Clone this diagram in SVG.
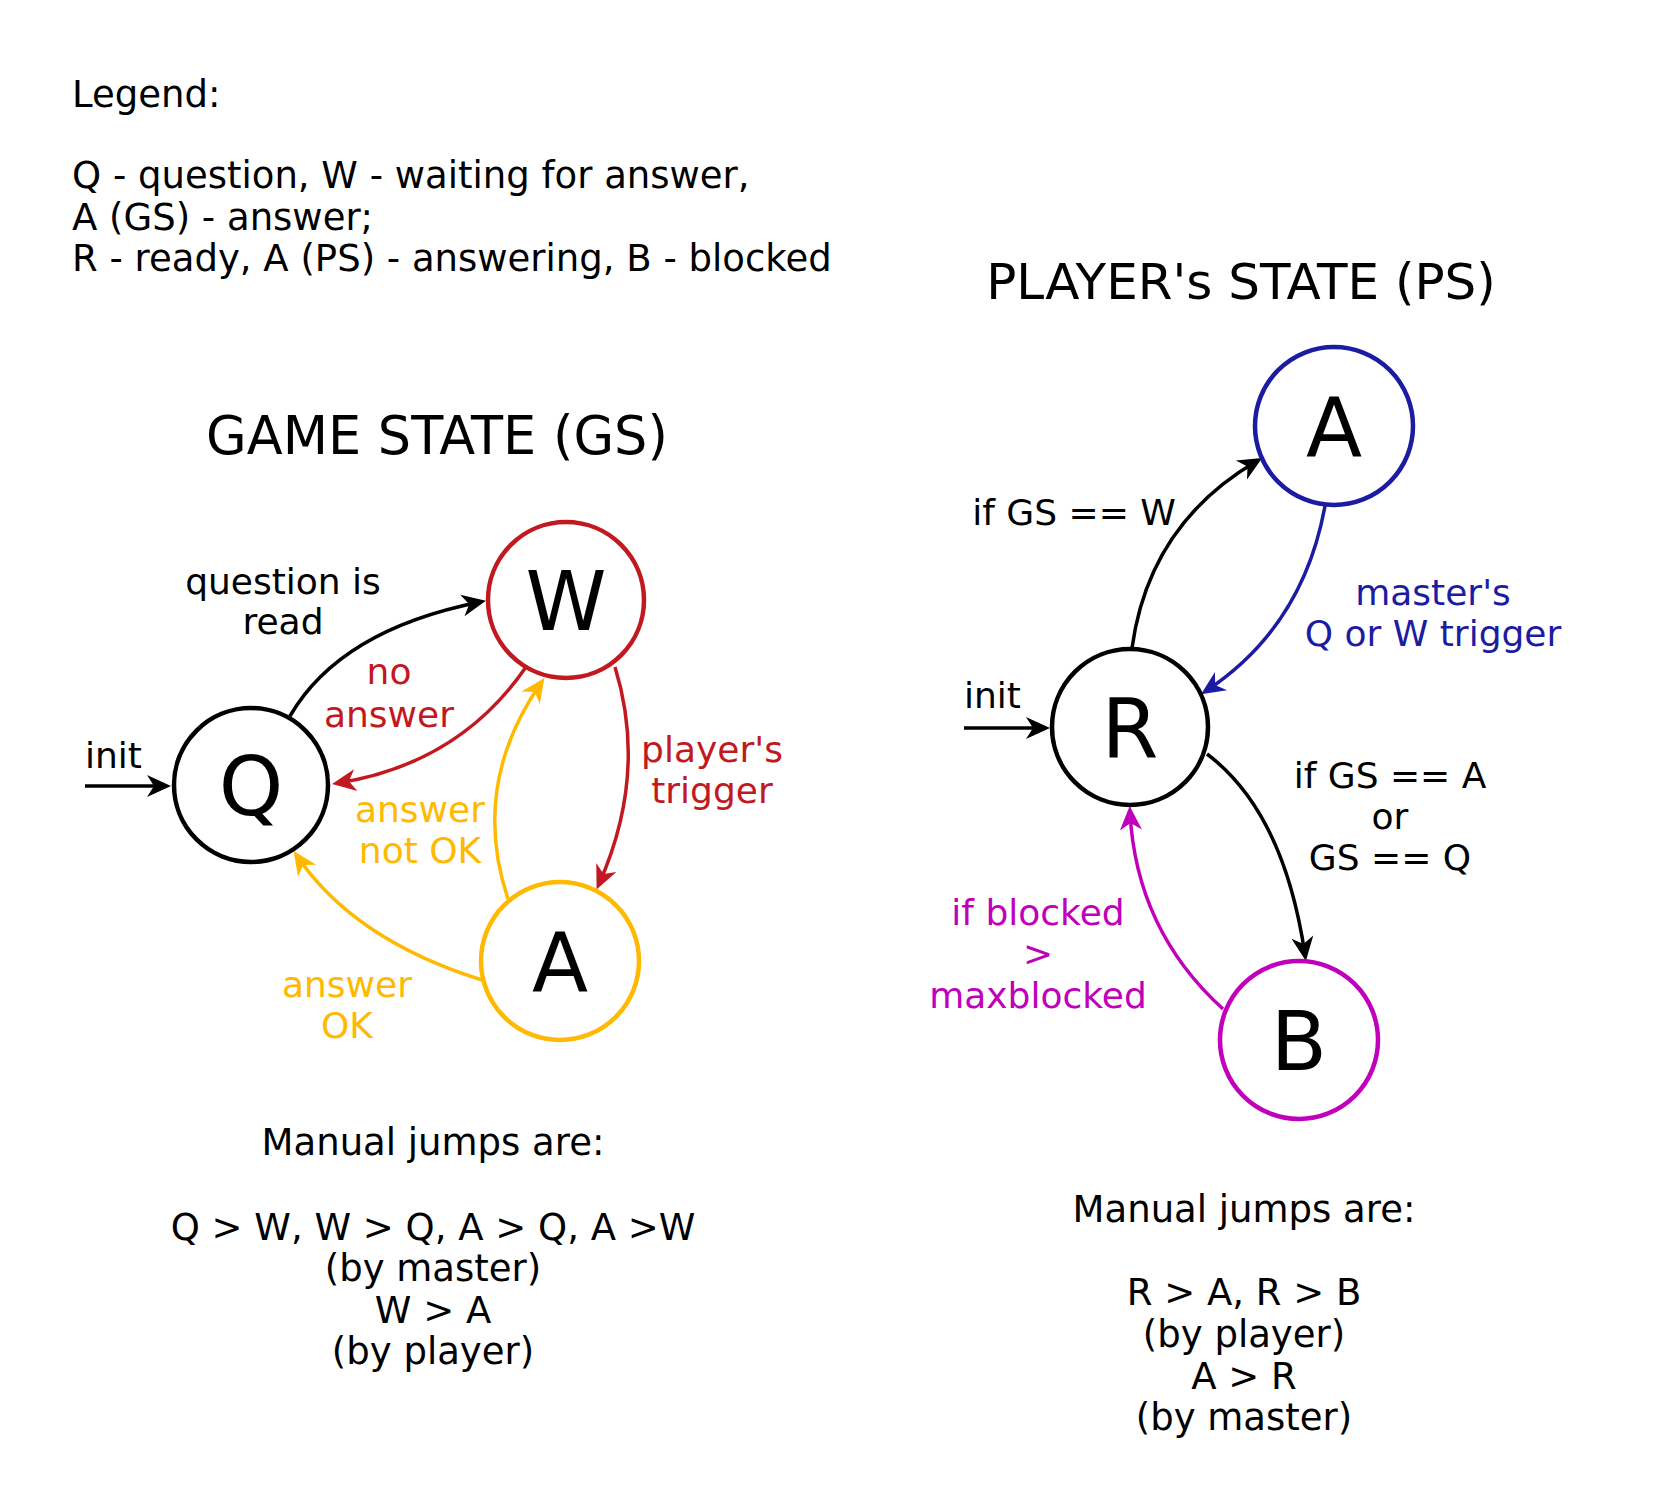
<svg xmlns="http://www.w3.org/2000/svg" width="1656" height="1509" viewBox="0 0 1656 1509">
<style>
text{font-family:"DejaVu Sans","Liberation Sans",sans-serif;}
.t{font-size:36px;fill:#000;}
.big{font-size:37px;}
.c{text-anchor:middle;}
.title{font-size:50px;text-anchor:middle;fill:#000;}
.letter{font-size:82px;text-anchor:middle;fill:#000;}
.node{fill:#fff;stroke-width:4.5;}
.e{fill:none;stroke-width:3.5;}
.red{fill:#c1191f;}
.yel{fill:#ffb900;}
.blu{fill:#1c1ca3;}
.mag{fill:#c000bb;}
</style>
<defs>
<marker id="ak" markerUnits="userSpaceOnUse" markerWidth="40" markerHeight="30" refX="18" refY="15" orient="auto" overflow="visible"><path d="M24 15 L0 4 L7 15 L0 26 Z" fill="#000"/></marker>
<marker id="ar" markerUnits="userSpaceOnUse" markerWidth="40" markerHeight="30" refX="18" refY="15" orient="auto" overflow="visible"><path d="M24 15 L0 4 L7 15 L0 26 Z" fill="#c1191f"/></marker>
<marker id="ay" markerUnits="userSpaceOnUse" markerWidth="40" markerHeight="30" refX="18" refY="15" orient="auto" overflow="visible"><path d="M24 15 L0 4 L7 15 L0 26 Z" fill="#ffb900"/></marker>
<marker id="ab" markerUnits="userSpaceOnUse" markerWidth="40" markerHeight="30" refX="18" refY="15" orient="auto" overflow="visible"><path d="M24 15 L0 4 L7 15 L0 26 Z" fill="#1c1ca3"/></marker>
<marker id="am" markerUnits="userSpaceOnUse" markerWidth="40" markerHeight="30" refX="18" refY="15" orient="auto" overflow="visible"><path d="M24 15 L0 4 L7 15 L0 26 Z" fill="#c000bb"/></marker>
</defs>
<rect width="1656" height="1509" fill="#fff"/>

<g id="legend" class="t big">
<text x="72" y="107">Legend:</text>
<text x="72" y="188">Q - question, W - waiting for answer,</text>
<text x="72" y="230">A (GS) - answer;</text>
<text x="72" y="271">R - ready, A (PS) - answering, B - blocked</text>
</g>

<text class="title" x="437" y="454" style="font-size:52.5px">GAME STATE (GS)</text>
<text class="title" x="1241" y="299">PLAYER's STATE (PS)</text>

<g id="connectors">
<path class="e" stroke="#000" d="M85 786 L165 786" marker-end="url(#ak)"/>
<path class="e" stroke="#000" d="M290 716 Q340 630 480 602" marker-end="url(#ak)"/>
<path class="e" stroke="#c1191f" d="M526 667 Q459 764 338 783" marker-end="url(#ar)"/>
<path class="e" stroke="#c1191f" d="M615 667 Q648 774 599 884" marker-end="url(#ar)"/>
<path class="e" stroke="#ffb900" d="M508 899 Q470 785 541 683" marker-end="url(#ay)"/>
<path class="e" stroke="#ffb900" d="M482 980 Q354 940 297 856" marker-end="url(#ay)"/>
<path class="e" stroke="#000" d="M964 728 L1044 728" marker-end="url(#ak)"/>
<path class="e" stroke="#000" d="M1132 648 Q1149 524 1257 461" marker-end="url(#ak)"/>
<path class="e" stroke="#1c1ca3" d="M1325 506 Q1303 627 1206 691" marker-end="url(#ab)"/>
<path class="e" stroke="#000" d="M1207 754 Q1284 812 1305 955" marker-end="url(#ak)"/>
<path class="e" stroke="#c000bb" d="M1223 1009 Q1136 930 1130 812" marker-end="url(#am)"/>
</g>

<g id="edge-labels" class="t c">
<text x="283" y="594">question is</text>
<text x="283" y="634">read</text>
<text x="389" y="684" class="red">no</text>
<text x="389" y="727" class="red">answer</text>
<text x="85" y="768" style="text-anchor:start">init</text>
<text x="420" y="822" class="yel">answer</text>
<text x="420" y="863" class="yel">not OK</text>
<text x="712" y="762" class="red">player's</text>
<text x="712" y="803" class="red">trigger</text>
<text x="347" y="997" class="yel">answer</text>
<text x="347" y="1038" class="yel">OK</text>
<text x="1074" y="525">if GS == W</text>
<text x="1433" y="605" class="blu">master's</text>
<text x="1433" y="646" class="blu">Q or W trigger</text>
<text x="964" y="708" style="text-anchor:start">init</text>
<text x="1390" y="788">if GS == A</text>
<text x="1390" y="829">or</text>
<text x="1390" y="870">GS == Q</text>
<text x="1038" y="925" class="mag">if blocked</text>
<text x="1038" y="966" class="mag">&gt;</text>
<text x="1038" y="1008" class="mag">maxblocked</text>
</g>

<g id="node-Q"><circle class="node" cx="251" cy="785" r="77" stroke="#000"/><text class="letter" x="251" y="815">Q</text></g>
<g id="node-W"><circle class="node" cx="566" cy="600" r="78" stroke="#c1191f"/><text class="letter" x="566" y="630">W</text></g>
<g id="node-A-GS"><circle class="node" cx="560" cy="961" r="79" stroke="#ffb900"/><text class="letter" x="560" y="991">A</text></g>
<g id="node-A-PS"><circle class="node" cx="1334" cy="426" r="79" stroke="#1c1ca3"/><text class="letter" x="1334" y="456">A</text></g>
<g id="node-R"><circle class="node" cx="1130" cy="727" r="78" stroke="#000"/><text class="letter" x="1130" y="757">R</text></g>
<g id="node-B"><circle class="node" cx="1299" cy="1040" r="79" stroke="#c000bb"/><text class="letter" x="1299" y="1070">B</text></g>

<g id="manual-gs" class="t c big">
<text x="433" y="1155">Manual jumps are:</text>
<text x="433" y="1240">Q &gt; W, W &gt; Q, A &gt; Q, A &gt;W</text>
<text x="433" y="1281">(by master)</text>
<text x="433" y="1323">W &gt; A</text>
<text x="433" y="1364">(by player)</text>
</g>
<g id="manual-ps" class="t c big">
<text x="1244" y="1222">Manual jumps are:</text>
<text x="1244" y="1305">R &gt; A, R &gt; B</text>
<text x="1244" y="1347">(by player)</text>
<text x="1244" y="1389">A &gt; R</text>
<text x="1244" y="1430">(by master)</text>
</g>
</svg>
